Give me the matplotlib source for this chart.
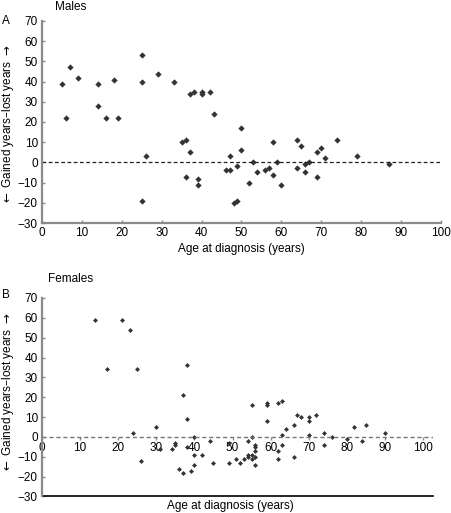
import matplotlib
matplotlib.use("Agg")
import matplotlib.pyplot as plt

plt.rcParams['font.family'] = ['Liberation Sans', 'DejaVu Sans']
plt.rcParams['font.size'] = 8.5

# males (panel A)
male_age = [5, 6, 7, 9, 14, 14, 16, 18, 19, 25, 25, 26, 25, 29, 33, 35, 36, 37, 36,
            37, 38, 40, 40, 42, 43, 39, 39, 47, 46, 47, 49, 48, 49, 50, 50, 53, 54,
            52, 56, 57, 58, 58, 59, 60, 64, 65, 64, 66, 66, 67, 69, 70, 71, 69, 74,
            79, 87]
male_diff = [39, 22, 47, 42, 39, 28, 22, 41, 22, 53, 40, 3, -19, 44, 40, 10, 11, 5, -7,
             34, 35, 34, 35, 35, 24, -8, -11, 3, -4, -4, -2, -20, -19, 17, 6, 0, -5,
             -10, -4, -3, 10, -6, 0, -11, 11, 8, -3, -5, -1, 0, 5, 7, 2, -7, 11,
             3, -1]

# females (panel B)
female_age = [14, 21, 23, 17, 25, 38, 37, 38, 30, 24, 40, 26, 31, 34, 35, 35, 38, 40,
              42, 40, 36, 37, 39, 44, 45, 49, 49, 51, 52, 53, 54, 54, 55, 55, 56, 56,
              56, 56, 56, 55, 54, 55, 59, 59, 59, 62, 63, 63, 64, 66, 67, 68, 70, 70,
              72, 70, 74, 76, 74, 80, 82, 85, 84, 90, 62, 63, 62, 66]
female_diff = [59, 59, 54, 34, 34, 36, 21, 9, 5, 2, 0, -12, -6, -6, -3, -4, -5, -9,
               -9, -14, -16, -18, -17, -2, -13, -13, -3, -11, -13, -11, -9, -10, -9, -11, -10, -14,
               -4, -5, -7, 0, -2, 16, 17, 16, 8, 17, 18, 1, 4, 6, 11, 10, 10, 8,
               11, 1, 2, 0, -4, -1, 5, 6, -2, 2, -7, -4, -11, -10]

yticks = [-30, -20, -10, 0, 10, 20, 30, 40, 50, 60, 70]
xticks = [0, 10, 20, 30, 40, 50, 60, 70, 80, 90, 100]
ylab = r"$\leftarrow$ Gained years" + "\u2013" + r"lost years $\rightarrow$"
grey = "#8a8a8a"

fig = plt.figure(figsize=(4.51, 5.13), dpi=100)

# ---- panel A
ax1 = fig.add_axes([0.0931, 0.5653, 0.8847, 0.3938])
ax1.plot(male_age, male_diff, 'D', color='#333333', markersize=3.2, markeredgewidth=0)
ax1.axhline(0, color='#222222', lw=0.9, ls=(0, (3, 2)))
ax1.set_xlim(0, 100)
ax1.set_ylim(-30, 70)
ax1.set_xticks(xticks)
ax1.set_yticks(yticks)
for s in ['top', 'right']:
    ax1.spines[s].set_visible(False)
for s in ['left', 'bottom']:
    ax1.spines[s].set_color(grey)
    ax1.spines[s].set_linewidth(1.6)
ax1.tick_params(direction='in', length=2.5, width=1, color=grey, pad=3)
ax1.tick_params(axis='x', pad=3)

# ---- panel B
ax2 = fig.add_axes([0.0931, 0.0322, 0.867, 0.387])
ax2.plot(female_age, female_diff, 'D', color='#333333', markersize=2.5, markeredgewidth=0)
ax2.axhline(0, color='#777777', lw=1.0, ls=(0, (3, 2)))
ax2.axhline(-30, color='black', lw=1.2, clip_on=False)
ax2.set_xlim(0, 102.6)
ax2.set_ylim(-30, 70)
ax2.set_xticks(xticks)
ax2.set_yticks(yticks)
for s in ['top', 'right']:
    ax2.spines[s].set_visible(False)
ax2.spines['left'].set_color(grey)
ax2.spines['left'].set_linewidth(1.6)
ax2.spines['bottom'].set_position(('data', 0))
ax2.spines['bottom'].set_color('none')
ax2.tick_params(axis='y', direction='in', length=2.5, width=1, color=grey, pad=3)
ax2.tick_params(axis='x', direction='out', length=2, width=1, color=grey, pad=1.5)

# labels
fig.text(55 / 451, 1 - 7 / 513, "Males", ha='left', va='center')
fig.text(2 / 451, 1 - 21.5 / 513, "A", ha='left', va='center')
fig.text(48 / 451, 1 - 279 / 513, "Females", ha='left', va='center')
fig.text(2 / 451, 1 - 295 / 513, "B", ha='left', va='center')
fig.text(241 / 451, 1 - 249 / 513, "Age at diagnosis (years)", ha='center', va='center')
fig.text(230 / 451, 1 - 506 / 513, "Age at diagnosis (years)", ha='center', va='center')
fig.text(8 / 451, 1 - 125 / 513, ylab, rotation=90, ha='center', va='center')
fig.text(8 / 451, 1 - 393 / 513, ylab, rotation=90, ha='center', va='center')

fig.savefig("out.png", dpi=100)
